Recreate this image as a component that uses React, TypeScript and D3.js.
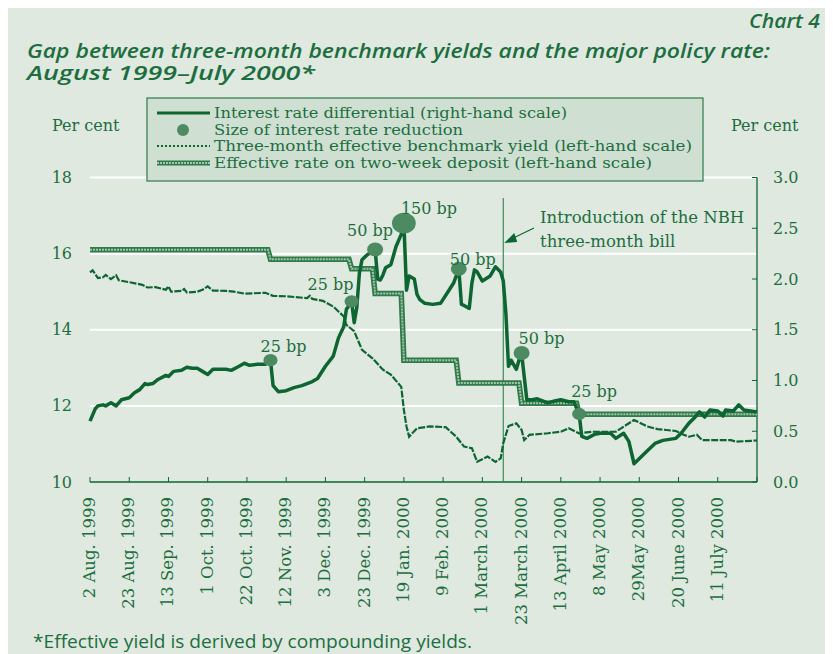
import React from "react";
import * as d3 from "d3";

// x axis is a trading-day index, one labelled tick every 15 days
const tickDays = [0, 15, 30, 45, 60, 75, 90, 105, 120, 135, 150, 165, 180, 195, 210, 225, 240];
const tickLabels = [
  "2 Aug. 1999", "23 Aug. 1999", "13 Sep. 1999", "1 Oct. 1999", "22 Oct. 1999",
  "12 Nov. 1999", "3 Dec. 1999", "23 Dec. 1999", "19 Jan. 2000", "9 Feb. 2000",
  "1 March 2000", "23 March 2000", "13 April 2000", "8 May 2000", "29May 2000",
  "20 June 2000", "11 July 2000",
];
const lastDay = 255;
const nbhDay = 158;

const leftTicks = [10, 12, 14, 16, 18];
const rightTicks = [0, 0.5, 1, 1.5, 2, 2.5, 3];

// interest rate differential, right-hand scale [day, %]
const differential: [number, number][] = [
  [0, 0.6], [2, 0.72], [3, 0.75], [5, 0.76], [6, 0.75], [8, 0.78], [10, 0.75], [12, 0.81],
  [15, 0.83], [17, 0.88], [19, 0.91], [21, 0.97], [22, 0.96], [24, 0.97], [26, 1.01],
  [29, 1.05], [30, 1.04], [32, 1.09], [35, 1.1], [37, 1.13], [39, 1.12], [41, 1.12],
  [43, 1.09], [45, 1.06], [47, 1.11], [50, 1.11], [52, 1.11], [54, 1.1], [57, 1.14],
  [59, 1.17], [61, 1.15], [64, 1.16], [67, 1.16], [69, 1.2], [70, 0.95], [72, 0.89],
  [75, 0.9], [78, 0.93], [81, 0.95], [83, 0.97], [85, 0.99], [87, 1.02], [90, 1.14],
  [93, 1.24], [95, 1.42], [97, 1.53], [98, 1.7], [100, 1.78], [101, 1.57], [102, 1.72],
  [103, 2.06], [104, 2.19], [106, 2.24], [108, 2.27], [109, 2.29], [110, 2.0], [111, 1.99],
  [112, 2.04], [113, 2.11], [115, 2.14], [117, 2.32], [119, 2.44], [120, 2.55], [121, 1.89],
  [122, 2.03], [124, 2.0], [125, 1.85], [126, 1.8], [128, 1.76], [131, 1.75], [134, 1.76],
  [137, 1.88], [139, 1.96], [141, 2.1], [142, 1.75], [143, 1.74], [145, 1.71], [146, 1.96],
  [147, 2.09], [148, 2.07], [150, 1.98], [153, 2.03], [155, 2.12], [157, 2.07], [158, 1.98],
  [159, 1.66], [160, 1.14], [161, 1.2], [163, 1.11], [164, 1.2], [165, 1.27], [166, 1.04],
  [167, 0.81], [169, 0.81], [171, 0.82], [173, 0.8], [175, 0.78], [178, 0.8], [180, 0.81],
  [183, 0.79], [185, 0.79], [187, 0.67], [188, 0.45], [190, 0.43], [193, 0.47], [195, 0.48],
  [199, 0.48], [201, 0.43], [204, 0.48], [206, 0.4], [208, 0.18], [212, 0.28], [216, 0.38],
  [219, 0.41], [224, 0.43], [226, 0.48], [229, 0.58], [231, 0.63], [233, 0.69], [235, 0.64],
  [237, 0.71], [240, 0.7], [242, 0.65], [243, 0.71], [246, 0.7], [248, 0.76], [250, 0.71],
  [255, 0.69],
];

// three-month effective benchmark yield, left-hand scale
const benchmark: [number, number][] = [
  [0, 15.51], [1, 15.56], [3, 15.36], [5, 15.38], [6, 15.44], [8, 15.33], [10, 15.43],
  [11, 15.3], [15, 15.25], [20, 15.18], [22, 15.11], [25, 15.12], [29, 15.05], [30, 15.14],
  [31, 15.0], [35, 15.02], [36, 15.07], [37, 14.98], [41, 15.0], [43, 15.05], [45, 15.14],
  [47, 15.03], [52, 15.02], [55, 15.0], [59, 14.95], [67, 14.97], [70, 14.89], [75, 14.88],
  [83, 14.83], [84, 14.89], [85, 14.81], [89, 14.76], [93, 14.61], [95, 14.48], [97, 14.35],
  [98, 14.13], [101, 13.96], [104, 13.47], [108, 13.25], [112, 12.95], [115, 12.82],
  [119, 12.5], [120, 11.89], [121, 11.46], [122, 11.19], [125, 11.41], [130, 11.46],
  [136, 11.44], [140, 11.19], [143, 10.93], [146, 10.89], [148, 10.53], [152, 10.67],
  [155, 10.53], [157, 10.62], [158, 11.02], [160, 11.47], [163, 11.54], [165, 11.37],
  [166, 11.1], [168, 11.24], [175, 11.28], [180, 11.32], [183, 11.41], [187, 11.28],
  [192, 11.32], [201, 11.32], [208, 11.63], [213, 11.46], [217, 11.39], [224, 11.34],
  [227, 11.24], [229, 11.19], [232, 11.24], [234, 11.1], [240, 11.1], [245, 11.1],
  [247, 11.06], [255, 11.09],
];

// effective rate on two-week deposit, left-hand scale
const deposit: [number, number][] = [
  [0, 16.1], [68, 16.1], [69, 15.85], [99, 15.85], [100, 15.6], [108, 15.6], [109, 14.95],
  [119, 14.95], [120, 13.2], [140, 13.2], [141, 12.6], [164, 12.6], [165, 12.07],
  [186, 12.07], [187, 11.78], [255, 11.78],
];

// policy rate cuts
const cutDays = [69, 100, 109, 120, 141, 165, 187];
const cutSizes = [25, 25, 50, 150, 50, 50, 25];
// where each label sits relative to its dot
const cutLabelOffsets = [
  [-10, -8], [-44, -11], [-28, -14], [-3, -9], [-9, -4], [-3, -9], [-8, -17],
];

const legendLabels = [
  "Interest rate differential (right-hand scale)",
  "Size of interest rate reduction",
  "Three-month effective benchmark yield (left-hand scale)",
  "Effective rate on two-week deposit (left-hand scale)",
];
const legendWidths = [353, 249, 478, 438];

const GREEN = "#0d6631";
const TEXT = "#1d6e3f";
const BG = "#dfe9e0";
const DOT = "#4c8a61";
const SERIF = "'DejaVu Serif', serif";
const SANS = "'Open Sans', sans-serif";

const App = () => {
  const x = d3.scaleLinear().domain([0, lastDay]).range([90, 757]);
  const yL = d3.scaleLinear().domain([10, 18]).range([482, 177.5]);
  const yR = d3.scaleLinear().domain([0, 3]).range([482, 177.5]);
  const r = d3.scaleLinear().domain([25, 150]).range([6.5, 11]);

  const lineR = d3.line<[number, number]>().x((d) => x(d[0])).y((d) => yR(d[1]));
  const lineL = d3.line<[number, number]>().x((d) => x(d[0])).y((d) => yL(d[1]));

  const cuts = cutDays.map((day, i) => {
    const pt = differential.find((d) => d[0] === day)!;
    return { day, value: pt[1], bp: cutSizes[i], off: cutLabelOffsets[i] };
  });

  const nx = x(nbhDay);

  return (
    <svg width={825} height={646} style={{ display: "block" }}>
      <g transform="translate(-8,-8)">
        <rect x={8} y={8} width={825} height={646} fill={BG} />

        {/* titles */}
        <g fontFamily={SANS} fontStyle="italic" fontWeight={600} fontSize={19} fill={TEXT}>
          <text x={820} y={28} textAnchor="end" textLength={71} lengthAdjust="spacingAndGlyphs">
            Chart 4
          </text>
          <text x={27} y={58} textLength={743} lengthAdjust="spacingAndGlyphs">
            Gap between three-month benchmark yields and the major policy rate:
          </text>
          <text x={27} y={80} textLength={288} lengthAdjust="spacingAndGlyphs">
            August 1999–July 2000*
          </text>
        </g>

        {/* gridlines */}
        {leftTicks.filter((t) => t > 10).map((t) => (
          <line key={t} x1={90} x2={757} y1={yL(t)} y2={yL(t)} stroke="#ffffff" strokeWidth={2} />
        ))}

        {/* left axis labels */}
        {leftTicks.map((t) => (
          <text key={t} x={72} y={yL(t)} dy="0.35em" textAnchor="end" fontFamily={SERIF} fontSize={16} fill={TEXT}>
            {t}
          </text>
        ))}
        <text x={52} y={131} fontFamily={SERIF} fontSize={16} fill={TEXT}>Per cent</text>

        {/* right axis */}
        <line x1={757} x2={757} y1={yR(3)} y2={482} stroke={GREEN} strokeWidth={1.3} />
        {rightTicks.map((t) => (
          <g key={t}>
            <line x1={752} x2={757} y1={yR(t)} y2={yR(t)} stroke={GREEN} strokeWidth={1} />
            <text x={773} y={yR(t)} dy="0.35em" fontFamily={SERIF} fontSize={16} fill={TEXT}>
              {d3.format(".1f")(t)}
            </text>
          </g>
        ))}
        <text x={731} y={131} fontFamily={SERIF} fontSize={16} fill={TEXT}>Per cent</text>

        {/* bottom axis */}
        <line x1={90} x2={757} y1={482} y2={482} stroke={GREEN} strokeWidth={1.3} />
        {tickDays.concat([lastDay]).map((d) => (
          <line key={d} x1={x(d)} x2={x(d)} y1={477} y2={482} stroke={GREEN} strokeWidth={1} />
        ))}
        {tickDays.map((d, i) => (
          <text
            key={d}
            transform={`translate(${x(d) + 5},497) rotate(-90)`}
            textAnchor="end"
            fontFamily={SERIF}
            fontSize={16.5}
            fill={TEXT}
          >
            {tickLabels[i]}
          </text>
        ))}

        {/* NBH three-month bill introduction */}
        <line x1={nx} x2={nx} y1={198} y2={482} stroke="#3d8a58" strokeWidth={1.2} />
        <line x1={534} y1={228} x2={nx + 8} y2={239} stroke={GREEN} strokeWidth={1.2} />
        <polygon points={`${nx + 1},243 ${nx + 11},233 ${nx + 14},242`} fill={GREEN} />
        <text x={540} y={223} fontFamily={SERIF} fontSize={16.5} fill={TEXT}>Introduction of the NBH</text>
        <text x={540} y={247} fontFamily={SERIF} fontSize={16.5} fill={TEXT}>three-month bill</text>

        {/* two-week deposit rate, double line */}
        <path d={lineL(deposit)!} fill="none" stroke="#2f7a4a" strokeWidth={5.5} />
        <path d={lineL(deposit)!} fill="none" stroke="#a3c6ab" strokeWidth={2} strokeDasharray="2,1" />

        {/* benchmark yield */}
        <path d={lineL(benchmark)!} fill="none" stroke={GREEN} strokeWidth={2.2} strokeDasharray="7,1.5" />

        {/* differential */}
        <path d={lineR(differential)!} fill="none" stroke={GREEN} strokeWidth={3.5} strokeLinejoin="round" />

        {/* cut markers */}
        {cuts.map((c) => (
          <g key={c.day}>
            <ellipse cx={x(c.day)} cy={yR(c.value)} rx={r(c.bp) * 1.08} ry={r(c.bp) * 0.95} fill={DOT} />
            <text x={x(c.day) + c.off[0]} y={yR(c.value) + c.off[1]} fontFamily={SERIF} fontSize={16} fill={TEXT}>
              {c.bp} bp
            </text>
          </g>
        ))}

        {/* legend */}
        <rect x={147} y={98} width={556} height={83} fill="#cfe0d3" stroke="#2f7a4a" strokeWidth={1.2} />
        <line x1={157} x2={210} y1={113} y2={113} stroke={GREEN} strokeWidth={3} />
        <circle cx={183} cy={130} r={6} fill={DOT} />
        <line x1={157} x2={210} y1={146} y2={146} stroke={GREEN} strokeWidth={2} strokeDasharray="2,2" />
        <line x1={157} x2={210} y1={163} y2={163} stroke="#2f7a4a" strokeWidth={5} />
        <line x1={157} x2={210} y1={163} y2={163} stroke="#a3c6ab" strokeWidth={1.8} strokeDasharray="2,1" />
        {legendLabels.map((t, i) => (
          <text
            key={t}
            x={214}
            y={118 + i * 16.7}
            fontFamily={SERIF}
            fontSize={15}
            fill={TEXT}
            textLength={legendWidths[i]}
            lengthAdjust="spacingAndGlyphs"
          >
            {t}
          </text>
        ))}

        {/* footnote */}
        <text x={33} y={648} fontFamily={SANS} fontSize={17.5} fill={TEXT} textLength={439} lengthAdjust="spacingAndGlyphs">
          *Effective yield is derived by compounding yields.
        </text>
      </g>
    </svg>
  );
};

export default App;
